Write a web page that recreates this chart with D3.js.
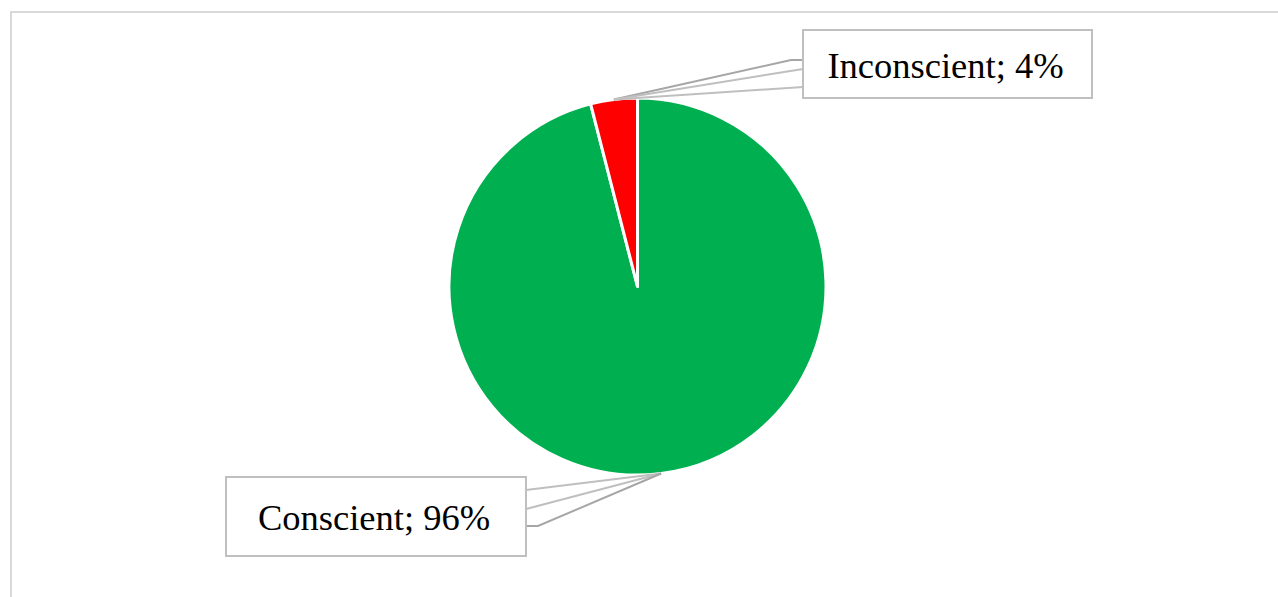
<!DOCTYPE html>
<html>
<head>
<meta charset="utf-8">
<script src="https://cdn.jsdelivr.net/npm/d3@7"></script>
<style>
  html, body { margin: 0; padding: 0; background: #fff; overflow: hidden; }
  .dataLabel { font-family: "Liberation Serif", "Times New Roman", serif; font-size: 36.5px; fill: #000; }
</style>
</head>
<body>
<div id="chart"></div>
<script>
// data
const categories = ["Conscient", "Inconscient"];
const values = [96, 4];
const colors = ["#00B050", "#FF0000"];

const width = 1278;
const height = 597;

const svg = d3.select("#chart")
    .append("svg")
    .attr("width", width)
    .attr("height", height);

// chart area border (runs off the right and bottom of the picture)
svg.append("rect")
    .attr("x", 11)
    .attr("y", 12)
    .attr("width", width + 20)
    .attr("height", height + 20)
    .attr("fill", "none")
    .attr("stroke", "#d9d9d9")
    .attr("stroke-width", 2);

const cx = 637.5, cy = 286.5, radius = 188.5;

const pie = d3.pie().sort(null).value(function(d) { return d; });
const arcs = pie(values);

const arc = d3.arc().innerRadius(0).outerRadius(radius);

const g = svg.append("g").attr("transform", `translate(${cx},${cy})`);

g.selectAll("path.slice")
    .data(arcs)
    .enter()
    .append("path")
    .attr("class", "slice")
    .attr("d", arc)
    .attr("fill", function(d, i) { return colors[i]; })
    .attr("stroke", "#fff")
    .attr("stroke-width", 3)
    .attr("stroke-linejoin", "round");

// anchor point on the rim at the middle of each slice
function anchor(d) {
    const a = (d.startAngle + d.endAngle) / 2;
    return [cx + radius * Math.sin(a), cy - radius * Math.cos(a)];
}

// label boxes (layout only)
const boxes = [
    {x: 226, y: 477, w: 300, h: 79, side: "right", lines: [13, 32, 49], step: [false, false, true]},
    {x: 803, y: 30, w: 289, h: 68, side: "left", lines: [30, 39, 57], step: [true, false, false]}
];

arcs.forEach(function(d, i) {
    const b = boxes[i];
    const p = anchor(d);
    const ex = b.side === "right" ? b.x + b.w : b.x;
    const dir = b.side === "right" ? 1 : -1;

    // callout leader lines
    b.lines.forEach(function(off, k) {
        const pts = [[ex, b.y + off]];
        if (b.step[k]) pts.push([ex + dir * 12, b.y + off]);
        pts.push(p);
        svg.append("path")
            .attr("d", d3.line()(pts))
            .attr("fill", "none")
            .attr("stroke", b.step[k] ? "#a6a6a6" : "#bfbfbf")
            .attr("stroke-width", 2);
    });

    svg.append("rect")
        .attr("x", b.x)
        .attr("y", b.y)
        .attr("width", b.w)
        .attr("height", b.h)
        .attr("fill", "#fff")
        .attr("stroke", "#bfbfbf")
        .attr("stroke-width", 2);

    svg.append("text")
        .attr("class", "dataLabel")
        .attr("x", b.x + b.w / 2 - 2)
        .attr("y", b.y + b.h / 2 + 13.5)
        .attr("text-anchor", "middle")
        .text(`${categories[i]}; ${values[i]}%`);
});
</script>
</body>
</html>
